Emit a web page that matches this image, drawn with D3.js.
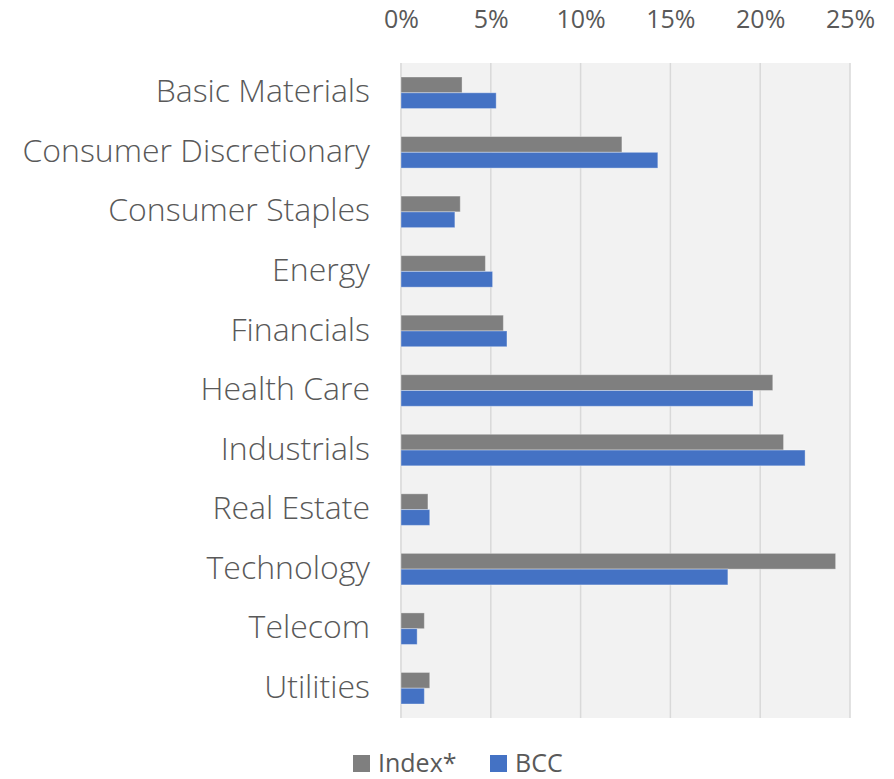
<!DOCTYPE html>
<html>
<head>
<meta charset="utf-8">
<script src="https://cdn.jsdelivr.net/npm/d3@7"></script>
<style>
  body { margin: 0; background: #fff; }
  svg text { font-family: "Open Sans", sans-serif; fill: #595959; }
</style>
</head>
<body>
<div id="chart"></div>
<script>
// sector weights
const sectors = ["Basic Materials", "Consumer Discretionary", "Consumer Staples", "Energy",
  "Financials", "Health Care", "Industrials", "Real Estate", "Technology", "Telecom", "Utilities"];
const indexValues = [3.4, 12.3, 3.3, 4.7, 5.7, 20.7, 21.3, 1.5, 24.2, 1.3, 1.6];
const bccValues   = [5.3, 14.3, 3.0, 5.1, 5.9, 19.6, 22.5, 1.6, 18.2, 0.9, 1.3];
const seriesNames = ["Index*", "BCC"];
const seriesColors = ["#7f7f7f", "#4472c4"];
const xTicks = [0, 5, 10, 15, 20, 25];

const width = 894, height = 779;
const margin = { top: 63, right: 44, bottom: 61, left: 401 };

const svg = d3.select("#chart").append("svg")
    .attr("width", width)
    .attr("height", height);

const x = d3.scaleLinear()
    .domain([0, 25])
    .range([margin.left, width - margin.right]);

const y = d3.scaleBand()
    .domain(sectors)
    .range([margin.top, height - margin.bottom])
    .paddingInner(0.47)
    .paddingOuter(0.235);

const ySub = d3.scaleBand()
    .domain(seriesNames)
    .range([0, y.bandwidth()]);

// plot background
svg.append("rect")
    .attr("x", x(0) - 1)
    .attr("y", margin.top)
    .attr("width", x(25) - x(0) + 1)
    .attr("height", height - margin.bottom - margin.top)
    .attr("fill", "#f2f2f2");

// gridlines
svg.append("g")
    .selectAll("line")
    .data(xTicks)
    .join("line")
    .attr("x1", d => x(d))
    .attr("x2", d => x(d))
    .attr("y1", margin.top)
    .attr("y2", height - margin.bottom)
    .attr("stroke", "#d9d9d9")
    .attr("stroke-width", 1.5);

// top axis
const xAxis = svg.append("g")
    .attr("transform", `translate(0,${margin.top - 32})`)
    .call(d3.axisTop(x).tickValues(xTicks).tickFormat(d => d + "%").tickSize(0));
xAxis.select(".domain").remove();
xAxis.selectAll("text")
    .attr("font-size", 25)
    .attr("dy", 0)
    .style("font-family", "'Open Sans', sans-serif")
    .attr("fill", "#595959");

// category labels
const yAxis = svg.append("g")
    .attr("transform", `translate(${margin.left - 31},0)`)
    .call(d3.axisLeft(y).tickSize(0));
yAxis.select(".domain").remove();
yAxis.selectAll("text")
    .attr("x", 0)
    .attr("dy", "0.3em")
    .attr("font-size", 32)
    .style("font-family", "'Open Sans', sans-serif")
    .style("font-weight", 300)
    .attr("fill", "#595959");

// bars
const rows = sectors.map((s, i) => ({ sector: s, values: [indexValues[i], bccValues[i]] }));

const groups = svg.append("g")
    .selectAll("g")
    .data(rows)
    .join("g")
    .attr("transform", d => `translate(0,${y(d.sector)})`);

groups.selectAll("rect")
    .data(d => d.values.map((v, k) => ({ name: seriesNames[k], value: v, color: seriesColors[k] })))
    .join("rect")
    .attr("x", x(0))
    .attr("y", d => ySub(d.name))
    .attr("width", d => x(d.value) - x(0))
    .attr("height", ySub.bandwidth())
    .attr("fill", d => d.color)
    .attr("stroke", "#ffffff")
    .attr("stroke-opacity", 0.35)
    .attr("stroke-width", 1);

// legend (sits right against the bottom edge, as in the original)
const legendItems = [
  { name: seriesNames[0], color: seriesColors[0], x: 353 },
  { name: seriesNames[1], color: seriesColors[1], x: 490 }
];
const legend = svg.append("g").attr("transform", "translate(0,755)");
legend.selectAll("rect")
    .data(legendItems)
    .join("rect")
    .attr("x", d => d.x)
    .attr("y", 0)
    .attr("width", 17)
    .attr("height", 17)
    .attr("fill", d => d.color);
legend.selectAll("text")
    .data(legendItems)
    .join("text")
    .attr("x", d => d.x + 25)
    .attr("y", 17)
    .attr("font-size", 25)
    .text(d => d.name);
</script>
</body>
</html>
